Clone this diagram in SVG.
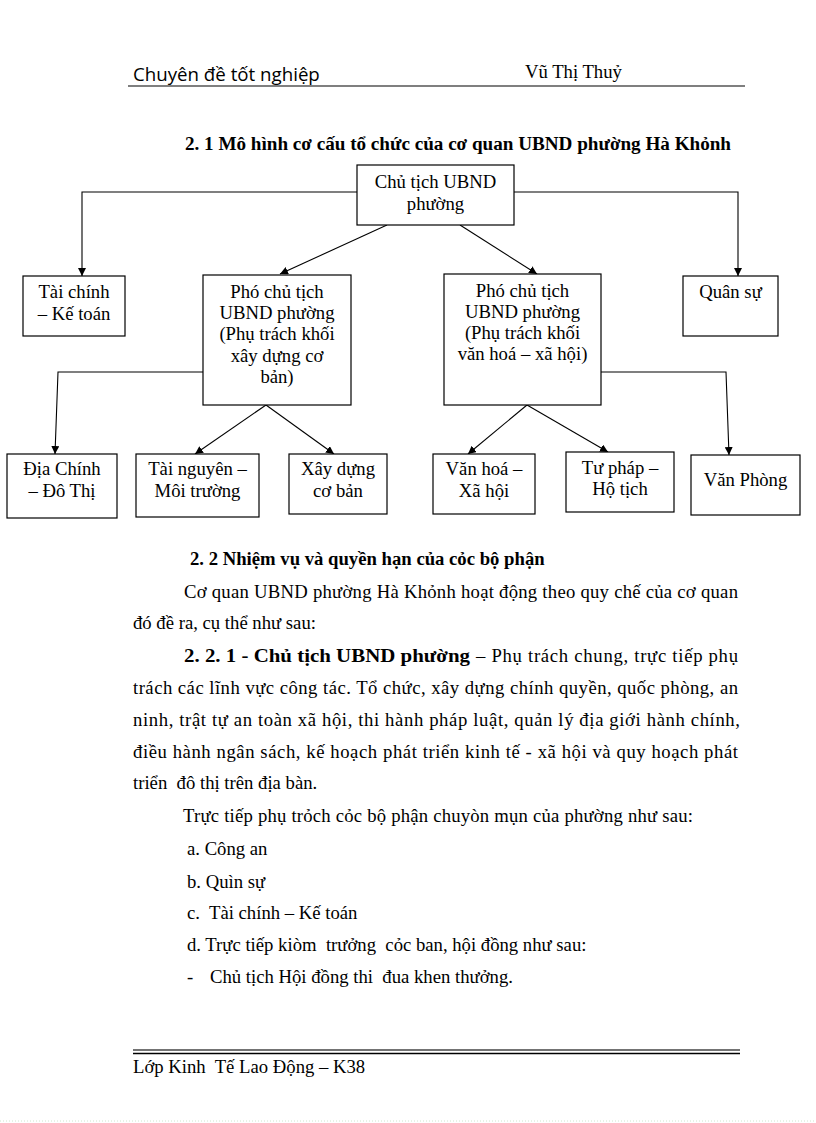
<svg xmlns="http://www.w3.org/2000/svg" width="816" height="1123" viewBox="0 0 816 1123">
<style>
  .bg{fill:#ffffff}
  .box{fill:#ffffff;stroke:#000000;stroke-width:1.2}
  .bt{font-family:"Liberation Serif","Times New Roman",serif;font-size:18.7px;fill:#000;text-anchor:middle}
  .body{font-family:"Liberation Serif","Times New Roman",serif;font-size:18.7px;fill:#000}
  .bold{font-weight:bold}
  .hdr{font-family:"Open Sans","DejaVu Sans",sans-serif;font-size:18.7px;fill:#000}
  .conn{fill:none;stroke:#000;stroke-width:1.1}
  .rule{stroke:#000;stroke-width:1.2}
</style>
<defs>
  <marker id="arr" viewBox="0 0 10 10" refX="10" refY="5" markerWidth="8" markerHeight="8" markerUnits="userSpaceOnUse" orient="auto">
    <path d="M0,0 L10,5 L0,10 z" fill="#000"/>
  </marker>
</defs>
<rect class="bg" x="0" y="0" width="816" height="1123"/>

<g id="header">
  <text class="hdr" x="133" y="81">Chuyên đề tốt nghiệp</text>
  <text class="body" x="525" y="78">Vũ Thị Thuỷ</text>
  <line class="rule" x1="128" y1="86" x2="745" y2="86"/>
</g>

<text class="body bold" x="185" y="150" font-size="17.3" textLength="546" lengthAdjust="spacingAndGlyphs">2. 1 Mô hình  cơ cấu tổ chức của cơ quan UBND phường Hà Khỏnh</text>

<g id="connectors">
  <polyline class="conn" points="357,192 82,192 82,276" marker-end="url(#arr)"/>
  <polyline class="conn" points="514,192 738,192 738,276" marker-end="url(#arr)"/>
  <line class="conn" x1="387" y1="225" x2="280" y2="274" marker-end="url(#arr)"/>
  <line class="conn" x1="460" y1="225" x2="537" y2="274" marker-end="url(#arr)"/>
  <polyline class="conn" points="203,372 58,372 55,454" marker-end="url(#arr)"/>
  <line class="conn" x1="266" y1="405" x2="195" y2="454" marker-end="url(#arr)"/>
  <line class="conn" x1="266" y1="405" x2="334" y2="454" marker-end="url(#arr)"/>
  <line class="conn" x1="527" y1="405" x2="468" y2="454" marker-end="url(#arr)"/>
  <line class="conn" x1="527" y1="405" x2="608" y2="452" marker-end="url(#arr)"/>
  <polyline class="conn" points="601,372 726,372 729,455" marker-end="url(#arr)"/>
</g>

<g id="chutich">
  <rect class="box" x="357" y="165" width="157" height="60"/>
  <text class="bt" x="435.5" y="188">Chủ tịch UBND</text>
  <text class="bt" x="435.5" y="210">phường</text>
</g>
<g id="taichinh">
  <rect class="box" x="23" y="276" width="102" height="60"/>
  <text class="bt" x="74" y="298">Tài chính</text>
  <text class="bt" x="74" y="320">– Kế toán</text>
</g>
<g id="phochutich1">
  <rect class="box" x="203" y="275" width="148" height="130"/>
  <text class="bt" x="277" y="298">Phó chủ tịch</text>
  <text class="bt" x="277" y="319">UBND phường</text>
  <text class="bt" x="277" y="340">(Phụ trách khối</text>
  <text class="bt" x="277" y="362">xây dựng cơ</text>
  <text class="bt" x="277" y="383">bản)</text>
</g>
<g id="phochutich2">
  <rect class="box" x="444" y="274" width="157" height="131"/>
  <text class="bt" x="522.5" y="297">Phó chủ tịch</text>
  <text class="bt" x="522.5" y="318">UBND  phường</text>
  <text class="bt" x="522.5" y="339">(Phụ trách khối</text>
  <text class="bt" x="522.5" y="360">văn hoá – xã hội)</text>
</g>
<g id="quansu">
  <rect class="box" x="683" y="276" width="95" height="60"/>
  <text class="bt" x="730.5" y="298">Quân sự</text>
</g>
<g id="diachinh">
  <rect class="box" x="7" y="454" width="110" height="64"/>
  <text class="bt" x="62" y="475">Địa Chính</text>
  <text class="bt" x="62" y="497">– Đô Thị</text>
</g>
<g id="tainguyen">
  <rect class="box" x="136" y="454" width="123" height="63"/>
  <text class="bt" x="197.5" y="475">Tài nguyên –</text>
  <text class="bt" x="197.5" y="497">Môi trường</text>
</g>
<g id="xaydung">
  <rect class="box" x="289" y="454" width="98" height="60"/>
  <text class="bt" x="338" y="475">Xây dựng</text>
  <text class="bt" x="338" y="497">cơ bản</text>
</g>
<g id="vanhoa">
  <rect class="box" x="433" y="454" width="102" height="60"/>
  <text class="bt" x="484" y="475">Văn hoá –</text>
  <text class="bt" x="484" y="497">Xã hội</text>
</g>
<g id="tuphap">
  <rect class="box" x="566" y="452" width="108" height="60"/>
  <text class="bt" x="620" y="474">Tư pháp –</text>
  <text class="bt" x="620" y="495">Hộ tịch</text>
</g>
<g id="vanphong">
  <rect class="box" x="691" y="455" width="109" height="60"/>
  <text class="bt" x="745.5" y="486">Văn Phòng</text>
</g>

<g id="bodytext">
  <text class="body bold" x="190" y="565" font-size="17.6">2. 2 Nhiệm vụ và quyền hạn của cỏc bộ phận</text>
  <text class="body" x="184" y="598" textLength="554" lengthAdjust="spacing">Cơ quan UBND  phường Hà Khỏnh hoạt động theo quy chế của cơ quan</text>
  <text class="body" x="133" y="629">đó đề ra, cụ thể như sau:</text>
  <text class="body bold" x="184" y="662" textLength="286" lengthAdjust="spacingAndGlyphs">2. 2. 1 - Chủ tịch UBND phường</text>
  <text class="body" x="476" y="662" textLength="262" lengthAdjust="spacing">– Phụ trách chung, trực tiếp phụ</text>
  <text class="body" x="133" y="694" textLength="605" lengthAdjust="spacing">trách các lĩnh vực công tác. Tổ chức, xây dựng chính quyền, quốc phòng, an</text>
  <text class="body" x="133" y="726" textLength="607" lengthAdjust="spacing">ninh, trật tự an toàn xã hội, thi hành pháp luật, quản lý địa giới hành chính,</text>
  <text class="body" x="133" y="758" textLength="605" lengthAdjust="spacing">điều hành ngân sách, kế hoạch phát triển kinh  tế - xã hội và quy hoạch phát</text>
  <text class="body" x="133" y="789" xml:space="preserve">triển  đô thị trên địa bàn.</text>
  <text class="body" x="183" y="822" textLength="510" lengthAdjust="spacing">Trực tiếp phụ trỏch cỏc bộ phận chuyòn mụn  của phường như sau:</text>
  <text class="body" x="187" y="855">a. Công an</text>
  <text class="body" x="187" y="888">b. Quìn sự</text>
  <text class="body" x="187" y="919" xml:space="preserve">c.  Tài chính – Kế toán</text>
  <text class="body" x="187" y="951" xml:space="preserve">d. Trực tiếp kiòm  trưởng  cỏc ban, hội đồng như sau:</text>
  <text class="body" x="187" y="983">-</text>
  <text class="body" x="210" y="983" xml:space="preserve">Chủ tịch Hội đồng thi  đua khen thưởng.</text>
</g>

<g id="footer">
  <line x1="133" y1="1050" x2="740" y2="1050" stroke="#444" stroke-width="1.6"/>
  <line x1="133" y1="1053.5" x2="740" y2="1053.5" stroke="#000" stroke-width="1.6"/>
  <text class="body" x="133" y="1073" xml:space="preserve">Lớp Kinh  Tế Lao Động – K38</text>
  <line x1="0" y1="1121" x2="816" y2="1121" stroke="#cfe6cf" stroke-width="1" stroke-dasharray="1,2"/>
</g>
</svg>
